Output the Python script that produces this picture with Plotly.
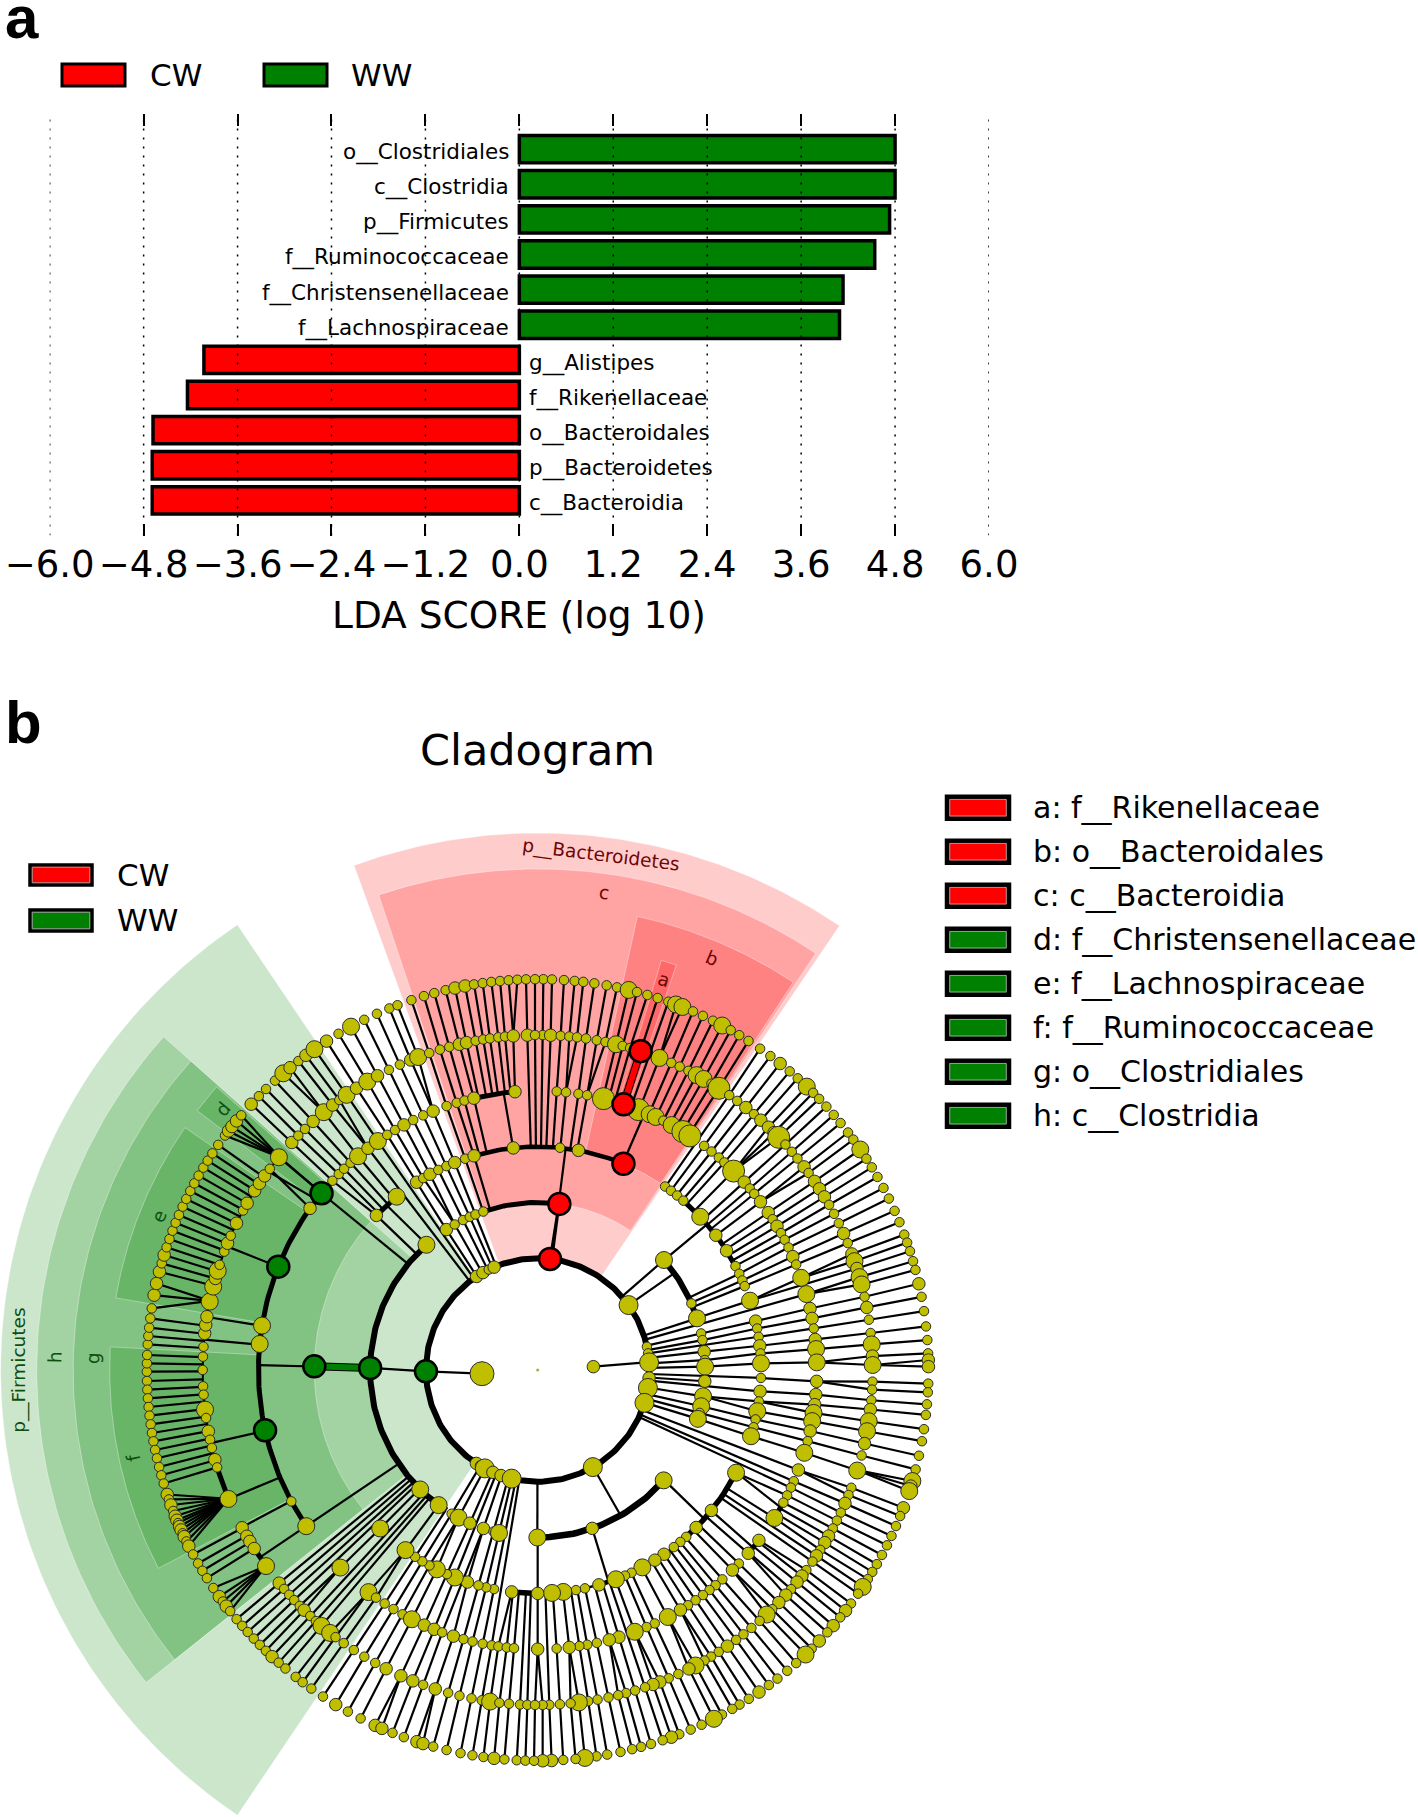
import numpy as np
import plotly.graph_objects as go

PAGE_W, PAGE_H = 1418, 1817
FONT = "DejaVu Sans"
RED, GREEN, OLIVE = "#ff0000", "#008000", "#bfbf00"

# ---------- panel a ----------
taxa = ["c__Bacteroidia", "p__Bacteroidetes", "o__Bacteroidales", "f__Rikenellaceae", "g__Alistipes",
        "f__Lachnospiraceae", "f__Christensenellaceae", "f__Ruminococcaceae", "p__Firmicutes",
        "c__Clostridia", "o__Clostridiales"]
lda = [-4.69, -4.69, -4.68, -4.24, -4.03, 4.09, 4.135, 4.54, 4.73, 4.8, 4.8]
bar_rows = list(range(len(taxa)))
tick_vals = [-6.0, -4.8, -3.6, -2.4, -1.2, 0.0, 1.2, 2.4, 3.6, 4.8, 6.0]

# ---------- panel b: nodes (x, y, size class) in third-of-a-pixel crop units ----------
CROP_CENTRE = {"TR": (23, 1215), "BR": (23, 31), "BL": (1223, 31), "TL": (1223, 1215)}
ring_radius = {1: 55.8, 2: 111.7, 3: 167.5, 4: 223.4, 5: 279.2, 6: 335.0, 7: 390.8}

L7_TR = [(40,43),(66,43),(102,45),(134,48),(160,50),(193,55),(230,61),(261,67),(296,75,3),(321,81),(352,90),(383,99),(415,110),(438,118,3),(458,124,3),(489,139),(519,152),(549,167),(577,181,3),(603,194),(628,210),(656,227),(691,250),(722,272),(751,295,2),(780,318),(804,339),(831,364,3),(851,382),(868,401),(890,424),(912,449),(933,473),(956,501),(971,523),(993,552,3),(1011,580),(1027,606),(1044,635),(1062,668),(1078,700),(1095,737),(1110,771),(1125,808),(1134,832),(1142,858),(1151,888),(1159,914),(1168,956,2),(1177,995),(1184,1038),(1190,1084),(1194,1125),(1197,1165),(1197,1185,2),(1198,1205,2)]
L7_BR = [(1198,72),(1196,98),(1192,134),(1190,166),(1185,209),(1178,245),(1170,289),(1160,330),(1150,365,3),(1145,380,2),(1140,395,3),(1122,445,2),(1113,470),(1100,500),(1087,530),(1073,558),(1058,587),(1043,615),(1029,638),(1016,660),(1000,683,3),(987,704),(965,733),(948,754,2),(933,775),(912,800,2),(894,820),(870,846,2),(848,870),(828,886,3),(800,912),(773,935),(744,959),(718,978),(689,1000,2),(658,1020),(630,1037),(608,1050),(577,1067),(553,1080,3),(516,1098),(483,1112),(449,1127),(425,1135,2),(399,1145),(364,1156),(334,1164),(307,1171),(272,1179),(232,1187),(200,1192),(165,1197,3),(137,1200),(100,1204),(65,1205,2),(38,1207,2)]
L7_BL = [(50,64),(52,90),(54,116),(56,142),(58,168),(62,194),(66,220),(70,245),(75,271),(80,296),(87,322),(93,347),(100,372),(110,405,2),(115,420),(120,437,2),(127,455),(135,470,2),(140,482,2),(145,490),(150,500,2),(155,510,2),(160,520),(165,530,2),(170,545),(175,560,2),(188,585),(203,612),(216,634),(230,656),(250,685),(265,713,2),(275,728),(288,740,2),(300,755),(318,780),(336,799),(352,818),(370,838),(388,857),(406,875),(425,892,2),(445,910),(465,928),(496,953),(517,969),(543,988),(578,1012),(616,1037,2),(653,1057),(691,1078),(735,1098,2),(755,1108,2),(787,1121),(821,1134),(860,1148,2),(878,1155,2),(909,1163),(949,1174),(991,1183),(1027,1189),(1060,1194),(1092,1198,2),(1123,1201),(1160,1205),(1186,1206),(1212,1207)]
L7_TL = [(50,1220),(50,1195),(52,1170),(52,1138),(55,1113),(57,1088),(60,1060),(65,1030),(70,990,2),(78,955,2),(88,920,2),(95,895),(102,870,2),(110,847),(118,822),(127,797),(136,773),(147,750),(158,725),(169,702),(181,678),(193,655),(206,632),(220,608),(233,587),(247,565),(265,540),(283,510),(292,495,2),(300,480,2),(320,468,2),(335,452),(364,418,2),(386,393),(408,372),(435,347),(460,325,3),(480,308,2),(505,288),(527,270,2),(553,252,3),(590,229,2),(626,207),(663,185,3),(703,165),(741,147),(778,130),(803,122),(844,105),(882,94),(913,85),(947,76),(975,69,2),(1005,62,2),(1032,58),(1058,54),(1084,51),(1110,47),(1136,46),(1162,44),(1188,43),(1215,43)]

L6_TR = [(38,211),(62,211,2),(92,213),(118,215),(141,218),(168,222),(200,227),(226,233),(258,238,3),(278,243),(300,250),(388,280,3),(424,293),(449,305),(475,318),(500,330,3),(520,343,3),(545,355),(568,368,4),(598,390),(622,407),(648,427,2),(672,447),(693,465,2),(716,486,2),(733,502,2),(748,515,4),(767,538),(787,559),(803,580),(823,605,2),(837,623),(855,648,2),(869,671,2),(884,695,2),(898,719),(913,746),(928,774),(942,805,2),(954,834),(968,866,2),(975,888,3),(982,910,2),(990,936,3),(996,958,3),(1005,995),(1012,1027,2),(1018,1064),(1022,1104),(1028,1138,3),(1029,1173,2),(1030,1200,3)]
L6_BR = [(1030,66),(1028,90),(1026,122),(1025,150,2),(1018,185,3),(1013,215,3),(1005,252,2),(997,288),(983,333,3),(966,385),(958,407),(947,432,2),(935,460),(923,484),(910,507),(897,530,2),(886,550,2),(873,572),(862,590,2),(849,607),(830,632),(817,650,2),(802,668,2),(785,690),(768,707,2),(748,730,2),(728,750),(712,767,3),(690,785),(666,807),(642,826),(620,843),(593,861,2),(567,878),(544,892),(525,905),(498,920,3),(478,930,2),(446,945),(417,958),(390,968,2),(370,977,2),(346,985),(316,995),(289,1003),(265,1008),(236,1016),(203,1022),(175,1027),(147,1031,3),(122,1033),(90,1036),(58,1037),(38,1038)]
L6_BL = [(220,80),(220,105),(225,150,3),(228,175),(235,215,2),(240,240),(245,265),(255,300,2),(262,323),(295,418,3),(335,505,2),(350,530,2),(360,545,2),(372,567,2),(407,620,3),(448,670,2),(462,688),(478,705),(492,722),(508,740),(522,752,2),(540,770),(557,785),(575,798,3),(600,820,3),(617,832),(640,852),(671,872),(703,891),(735,911),(768,928,2),(812,950,2),(848,965,2),(879,977),(915,990,2),(954,1001),(988,1010),(1024,1018),(1055,1024),(1080,1028,3),(1108,1031),(1137,1034),(1170,1036),(1192,1036),(1215,1037)]
L6_TL = [(220,1215),(218,1175),(218,1145),(222,1105,2),(228,1080,2),(230,1055,2),(240,1010,3),(250,965,3),(255,940,2),(265,918,3),(270,900),(283,860),(293,835,2),(302,812),(320,775,2),(340,737),(352,715,2),(375,678,2),(388,655,2),(403,632,2),(420,612),(447,577,3),(486,533,2),(506,513),(526,493),(550,470,2),(580,440,3),(608,420,2),(628,405),(650,390,3),(680,370,2),(712,350,3),(743,333,2),(777,315),(810,300),(843,287,2),(865,278,3),(898,265),(930,255),(958,246),(988,238,2),(1010,235,2),(1037,228),(1060,225),(1080,222),(1105,217),(1125,215),(1150,214,2),(1192,211,2),(1215,211)]

L5_TR = [(80,381),(108,383),(145,388),(171,393),(220,402,4),(260,412),(325,435,4),(358,450,3),(375,460,3),(400,467),(425,480,3),(460,497,4),(480,512,4),(522,543),(545,559),(567,577),(585,590),(612,617,4),(643,651,2),(660,670),(673,686),(692,710,2),(716,742,2),(729,762),(742,783,2),(755,803),(765,824),(776,847),(790,874,2),(800,898),(815,938,3),(830,987,3),(842,1030,2),(847,1060,2),(853,1090),(858,1123,2),(860,1152,3),(862,1192,3)]
L5_BR = [(862,65,2),(860,105,2),(855,135,2),(852,160,3),(850,185,3),(845,215,2),(835,245),(825,280,3),(808,332,2),(792,365),(785,385),(773,408),(762,430),(735,476,3),(688,543,2),(656,582,2),(628,613),(608,632,2),(578,660),(558,678),(540,693),(520,708),(497,722),(475,738),(452,752,2),(415,775,3),(375,793),(350,803),(315,818,3),(267,833,2),(238,842,2),(201,852),(172,857),(148,859),(118,865,2),(80,868),(23,870,2)]
L5_BL = [(484,425),(528,500,3),(630,625,3),(715,698,3),(738,714),(763,733),(790,749),(817,765),(845,780,3),(882,798,2),(912,810,2),(936,820),(970,830,2),(1000,840),(1027,848),(1058,853),(1085,857),(1105,860),(1130,865),(1152,867)]
L5_TL = [(390,1137,3),(397,1082,3),(540,730,2),(608,648),(627,628),(643,612),(663,595),(685,575,3),(714,550,2),(745,530,3),(772,510),(795,495),(822,480,2),(850,466),(880,452),(910,440,2),(950,424),(980,413),(1003,405),(1032,401,2),(1155,381,2)]

L4_TR = [(90,549),(145,557,2),(405,665),(423,677),(441,692),(460,707),(511,755,3),(557,811,2),(590,857,2),(617,903),(630,925),(640,945),(645,963),(660,1007,3),(678,1068,2),(684,1090),(688,1115),(692,1142,2),(694,1165),(695,1195,3)]
L4_BR = [(695,55),(690,95,2),(684,125),(684,155,3),(680,180),(672,203),(664,230,3),(620,340,3),(545,453,2),(500,505,2),(470,533),(452,548),(432,563),(403,585,2),(375,602,2),(338,625,3),(305,640),(285,648),(258,660,3),(207,677,2),(165,687),(138,692),(100,697,3),(66,700,3),(23,703,2)]
L4_BL = [(1145,697,2),(1092,688),(1068,685),(1045,678),(1012,668,2),(975,652,3),(950,645),(920,630,3),(898,618),(877,605),(855,592),(826,572,3),(750,507,3)]
L4_TL = [(740,752,2),(800,695,3),(860,652,2),(880,640),(900,628,2),(925,615),(950,605),(975,595,2),(1005,580),(1032,572,2),(1150,550,2)]

L3_TR = [(402,885,3),(485,1015),(501,1060,3),(515,1105),(520,1125),(523,1160,2),(527,1185),(528,1205,3)]
L3_BR = [(527,65,2),(520,110,3),(515,140,3),(510,160),(505,178,3),(402,363,3),(187,507,2),(22,535,3)]
L3_BL = [(870,390,3),(927,435,3),(965,462),(985,475,3),(1020,490,2),(1060,507,2),(1090,517),(1107,520,3)]
L3_TL = [(890,840,3),(950,795,2),(975,780),(1000,767),(1020,757),(1037,750),(1060,740)]

L2_TR = [(296,1020,3),(352,1145),(355,1165),(360,1192,3)]
L2_BR = [(358,55,2),(355,85,3),(348,118),(345,130,3),(190,325,3)]
L2_BL = [(1040,310,2),(1050,318),(1065,325,3),(1090,335,2),(1113,348,2),(1145,357,3)]
L2_TL = [(1040,935,2),(1060,925,2),(1077,915),(1093,908,2)]

L1_TR = [(191,1205,2)]
L1_BL = [(1057,42,4)]

RED_reads = [(60,882),(88,717),(280,597),(280,420),(332,258)]
RED_levels = [2, 3, 4, 5, 6]
GREEN_reads = [("BL",888,35),("BL",720,25),("BL",553,20),("TL",575,685),("TL",445,905),("BL",405,212)]
GREEN_levels = [2, 3, 4, 5, 5, 5]

# thick arcs: level, first angle, last angle (degrees clockwise from north), width
arc_level = [2, 3, 3, 3, 3, 4, 4, 4, 4, 4, 4, 4, 4, 5, 5, 5, 5, 5, 6, 6, 6, 6]
arc_start = [-180, -19, 49, -147, 131, -16.5, -46, 33.9, 40.7, 117.3, 138, 159.5, -180, -124, -13, 118.3, 127.5, 13, -107, -112.6, -126, -125.8]
arc_end = [180, 7.3, 72, -41.5, 180, 22.6, -39, 40.7, 62.3, 138, 180, 164, -173, -52.4, -4.6, 122, 131, 33.5, -52, -106.8, -118, -122.2]
arc_width = [6, 5, 6, 6, 6.5, 4.5, 5, 3, 5, 5.5, 2.5, 5, 5.5, 5, 5, 5, 5, 2.5, 2, 5, 2.5, 5]

# links from a parent to its arc or child: level, angle, level, angle
link_from_level = [1, 1, 2, 2, 2, 2, 3, 3, 3, 3, 3, 3, 4, 4, 4, 4, 4, 5, 5, 5, 5, 5, 5, 5, 5, 5]
link_from_angle = [86.6, -93.8, 54.5, 150.3, 6.3, -90.7, 7.2, 49, 131, 161, 180, -41.5, 22.4, -6.3, 117.3, 129, -89.1, -50.7, -54.6, -52.4, -68.3, -80.9, -84.8, -102.6, -118, -124]
link_to_level = [2, 2, 3, 3, 3, 3, 4, 4, 4, 4, 4, 4, 5, 5, 5, 5, 5, 6, 6, 6, 6, 6, 6, 6, 6, 6]
link_to_angle = [86, -90.7, 54.7, 150.3, 7.2, -89.3, 7.2, 49.3, 131.8, 161.5, 180, -42.5, 22.6, -7, 119.5, 129.5, -89, -50.5, -53.1, -53.6, -68.3, -80.9, -84.8, -102.6, -118, -124]

# fans: one level-6 parent, level-7 children inside an angle range
fan_parent = [-50.5, -78.1, -112.6, -125.8, 107.4]
fan_start = [-53.2, -81, -117, -128.4, 106]
fan_end = [-49, -77, -108, -123.5, 108.5]

# shaded clades
wedge_start = [-20, -18.5, 12.4, 16.8, -34, -48.3, -48.3, -117.6, -80.3, -52.7]
wedge_end = [34.2, 33.7, 33.4, 18.9, -146, -128.6, -128.6, -86.9, -55.5, -48.6]
wedge_inner = [112, 167.5, 223.4, 279.2, 112, 167.5, 223.4, 279.2, 279.2, 279.2]
wedge_outer = [537, 501, 464.5, 428, 537, 501, 464.5, 428, 428, 428]
wedge_rgb = ["255,0,0"] * 4 + ["0,128,0"] * 6

clade_text = ["p__Bacteroidetes", "c", "b", "a", "p__Firmicutes", "h", "g", "f", "e", "d"]
clade_angle = [7, 7.9, 23, 17.9, -90, -88.5, -88.5, -102.3, -67.9, -50.4]
clade_radius = [519, 482, 447, 410, 519, 483, 445, 414, 409, 409]
clade_color = ["#6e0505"] * 4 + ["#0d4f0d"] * 6

legend_names = ["a: f__Rikenellaceae", "b: o__Bacteroidales", "c: c__Bacteroidia", "d: f__Christensenellaceae",
                "e: f__Lachnospiraceae", "f: f__Ruminococcaceae", "g: o__Clostridiales", "h: c__Clostridia"]
legend_colors = [RED, RED, RED, GREEN, GREEN, GREEN, GREEN, GREEN]

# ---------- helpers ----------
SIZE = {1: 9.5, 2: 12.5, 3: 17, 4: 22}
LEVEL_LISTS = {7: [("TR", L7_TR), ("BR", L7_BR), ("BL", L7_BL), ("TL", L7_TL)],
               6: [("TR", L6_TR), ("BR", L6_BR), ("BL", L6_BL), ("TL", L6_TL)],
               5: [("TR", L5_TR), ("BR", L5_BR), ("BL", L5_BL), ("TL", L5_TL)],
               4: [("TR", L4_TR), ("BR", L4_BR), ("BL", L4_BL), ("TL", L4_TL)],
               3: [("TR", L3_TR), ("BR", L3_BR), ("BL", L3_BL), ("TL", L3_TL)],
               2: [("TR", L2_TR), ("BR", L2_BR), ("BL", L2_BL), ("TL", L2_TL)],
               1: [("TR", L1_TR), ("BL", L1_BL)]}


def read_angle(crop, x, y):
    cx, cy = CROP_CENTRE[crop]
    return float(np.degrees(np.arctan2(x - cx, cy - y)))


def polar(level_or_r, angle, is_level=True):
    r = ring_radius[level_or_r] if is_level else level_or_r
    a = np.radians(angle)
    return r * np.sin(a), r * np.cos(a)


def adiff(a, b):
    return abs((a - b + 180) % 360 - 180)


nodes = {}
for lev, groups in LEVEL_LISTS.items():
    nodes[lev] = []
    for crop, rows in groups:
        for row in rows:
            s = row[2] if len(row) > 2 else 1
            nodes[lev].append((read_angle(crop, row[0], row[1]), s))

red_angles = [read_angle("TR", x, y) for x, y in RED_reads]
green_angles = [read_angle(c, x, y) for c, x, y in GREEN_reads]
for lev, a in zip(RED_levels, red_angles):
    nodes[lev].append((a, 4))
for lev, a in zip(GREEN_levels, green_angles):
    nodes[lev].append((a, 4))


def on_arc(level, angle):
    for l, s, e in zip(arc_level, arc_start, arc_end):
        if l == level and s <= angle <= e:
            return True
    return False


segx, segy = [], []


def seg(l1, a1, l2, a2):
    x1, y1 = polar(l1, a1)
    x2, y2 = polar(l2, a2)
    segx.extend([x1, x2, None])
    segy.extend([y1, y2, None])


TOL = 1.6
for lev in range(3, 8):
    for a, _ in nodes[lev]:
        if on_arc(lev, a):
            continue
        if lev == 7:
            fan = [p for p, s, e in zip(fan_parent, fan_start, fan_end) if s <= a <= e]
            if fan:
                seg(6, fan[0], 7, a)
                continue
        for j in range(lev - 1, 0, -1):
            if on_arc(j, a):
                seg(j, a, lev, a)
                break
            near = [b for b, _s in nodes[j] if adiff(a, b) <= TOL]
            if near:
                best = min(near, key=lambda b: adiff(a, b))
                seg(j, best, lev, a)
                break

for l1, a1, l2, a2 in zip(link_from_level, link_from_angle, link_to_level, link_to_angle):
    seg(l1, a1, l2, a2)

fig = go.Figure()

# ---------- panel a traces ----------
fig.add_trace(go.Bar(x=lda, y=bar_rows, orientation="h", width=0.78,
                     marker=dict(color=[RED if v < 0 else GREEN for v in lda], line=dict(color="black", width=3.5)),
                     showlegend=False, hoverinfo="skip"))
gx, gy = [], []
for t in tick_vals:
    gx += [t, t, None]
    gy += [-1, 11, None]
fig.add_trace(go.Scatter(x=gx, y=gy, mode="lines", line=dict(color="black", width=1.5, dash="2px,7px"),
                         showlegend=False, hoverinfo="skip"))

# ---------- panel b traces ----------
for st, en, ri, ro, rgb in zip(wedge_start, wedge_end, wedge_inner, wedge_outer, wedge_rgb):
    th = np.linspace(st, en, 90)
    ox, oy = polar(ro, th, False)
    ix, iy = polar(ri, th[::-1], False)
    fig.add_trace(go.Scatter(x=np.r_[ox, ix, ox[0]], y=np.r_[oy, iy, oy[0]], xaxis="x2", yaxis="y2", mode="lines",
                             fill="toself", fillcolor=f"rgba({rgb},0.2)", line=dict(color="rgba(255,255,255,0.35)", width=1),
                             showlegend=False, hoverinfo="skip"))

for l, s, e, w in zip(arc_level, arc_start, arc_end, arc_width):
    th = np.linspace(s, e, max(8, int(abs(e - s))))
    ax_, ay_ = polar(l, th)
    fig.add_trace(go.Scatter(x=ax_, y=ay_, xaxis="x2", yaxis="y2", mode="lines", line=dict(color="black", width=w),
                             showlegend=False, hoverinfo="skip"))

fig.add_trace(go.Scatter(x=segx, y=segy, xaxis="x2", yaxis="y2", mode="lines", line=dict(color="black", width=2.2),
                         showlegend=False, hoverinfo="skip"))

# coloured stems
gs_x, gs_y = zip(polar(3, green_angles[1]), polar(4, green_angles[2]))
fig.add_trace(go.Scatter(x=gs_x, y=gs_y, xaxis="x2", yaxis="y2", mode="lines", line=dict(color="black", width=8),
                         showlegend=False, hoverinfo="skip"))
fig.add_trace(go.Scatter(x=gs_x, y=gs_y, xaxis="x2", yaxis="y2", mode="lines", line=dict(color=GREEN, width=6),
                         showlegend=False, hoverinfo="skip"))
rs_x, rs_y = zip(polar(5, red_angles[3]), polar(6, red_angles[4]))
fig.add_trace(go.Scatter(x=rs_x, y=rs_y, xaxis="x2", yaxis="y2", mode="lines", line=dict(color="black", width=8),
                         showlegend=False, hoverinfo="skip"))
fig.add_trace(go.Scatter(x=rs_x, y=rs_y, xaxis="x2", yaxis="y2", mode="lines", line=dict(color=RED, width=6),
                         showlegend=False, hoverinfo="skip"))

for lev in [2, 1, 3, 4, 5, 6, 7]:
    plain = [(a, s) for a, s in nodes[lev]
             if not any(l == lev and adiff(a, b) < 1e-9 for l, b in zip(RED_levels, red_angles))
             and not any(l == lev and adiff(a, b) < 1e-9 for l, b in zip(GREEN_levels, green_angles))]
    xs, ys = polar(lev, np.array([p[0] for p in plain]))
    fig.add_trace(go.Scatter(x=xs, y=ys, xaxis="x2", yaxis="y2", mode="markers",
                             marker=dict(color=OLIVE, opacity=1,
                                         size=[SIZE[p[1]] if not (lev <= 2 and p[1] >= 3) else SIZE[p[1]] + 2 for p in plain],
                                         line=dict(color="#2a2a2a", width=1)),
                             showlegend=False, hoverinfo="skip"))

for levs, angs, col in [(RED_levels, red_angles, RED), (GREEN_levels, green_angles, GREEN)]:
    xs = [polar(l, a)[0] for l, a in zip(levs, angs)]
    ys = [polar(l, a)[1] for l, a in zip(levs, angs)]
    fig.add_trace(go.Scatter(x=xs, y=ys, xaxis="x2", yaxis="y2", mode="markers",
                             marker=dict(color=col, opacity=1, size=22, line=dict(color="black", width=2.5)),
                             showlegend=False, hoverinfo="skip"))
fig.add_trace(go.Scatter(x=[0], y=[0], xaxis="x2", yaxis="y2", mode="markers",
                         marker=dict(color="#a9a94a", size=3), showlegend=False, hoverinfo="skip"))

# ---------- annotations and shapes ----------
anns, shapes = [], []


def page_text(text, x, y, size, anchor="left", family=FONT, color="black"):
    anns.append(dict(text=text, x=x / PAGE_W, y=1 - y / PAGE_H, xref="paper", yref="paper", xanchor=anchor,
                     yanchor="middle", showarrow=False, font=dict(family=family, size=size, color=color)))


def swatch(x0, y0, x1, y1, color, lw, rim=False):
    shapes.append(dict(type="rect", xref="paper", yref="paper", x0=x0 / PAGE_W, x1=x1 / PAGE_W,
                       y0=1 - y1 / PAGE_H, y1=1 - y0 / PAGE_H, fillcolor=color, line=dict(color="black", width=lw)))
    if rim:
        d = lw / 2 + 0.5
        shapes.append(dict(type="rect", xref="paper", yref="paper", x0=(x0 + d) / PAGE_W, x1=(x1 - d) / PAGE_W,
                           y0=1 - (y1 - d) / PAGE_H, y1=1 - (y0 + d) / PAGE_H, fillcolor="rgba(0,0,0,0)",
                           line=dict(color="#9a9a9a", width=1)))


for row, name, v in zip(bar_rows, taxa, lda):
    anns.append(dict(text=name, x=0, y=row, xref="x", yref="y", xanchor="right" if v > 0 else "left", xshift=-8 if v > 0 else 8,
                     yshift=-3, yanchor="middle", showarrow=False, font=dict(family=FONT, size=21.5, color="black")))

page_text("<b>a</b>", 3, 18, 60, family="Liberation Sans")
page_text("<b>b</b>", 3, 722, 60, family="Liberation Sans")
page_text("LDA SCORE (log 10)", 519.3, 615, 37.5, anchor="center")
page_text("Cladogram", 537.5, 750, 43, anchor="center")

swatch(62, 64, 125, 86, RED, 3)
page_text("CW", 148, 75, 31)
swatch(264, 64, 327, 86, GREEN, 3)
page_text("WW", 349, 75, 31)
swatch(30, 865, 92, 885, RED, 3.5, rim=True)
page_text("CW", 115, 875, 31)
swatch(30, 910, 92, 931, GREEN, 3.5, rim=True)
page_text("WW", 115, 920, 31)

for i, (nm, col) in enumerate(zip(legend_names, legend_colors)):
    cy = 807.7 + 44 * i
    swatch(947, cy - 11, 1009, cy + 11, col, 4.5, rim=True)
    page_text(nm, 1030.7, cy, 30)

for t, a, r, c in zip(clade_text, clade_angle, clade_radius, clade_color):
    x, y = polar(r, a, False)
    anns.append(dict(text=t, x=x, y=y, xref="x2", yref="y2", xanchor="center", yanchor="middle", showarrow=False,
                     textangle=a, font=dict(family=FONT, size=18.5, color=c)))

fig.update_layout(
    width=PAGE_W, height=PAGE_H, autosize=False, margin=dict(l=0, r=0, t=0, b=0),
    paper_bgcolor="white", plot_bgcolor="rgba(0,0,0,0)", bargap=0.2, showlegend=False,
    annotations=anns, shapes=shapes, font=dict(family=FONT),
    xaxis=dict(domain=[49.7 / PAGE_W, 989 / PAGE_W], range=[-6, 6], tickvals=tick_vals,
               ticktext=[f"{t:.1f}".replace("-", "\u2212") for t in tick_vals], automargin=False,
               ticks="inside", ticklen=12, tickwidth=1.5, tickcolor="black", mirror="ticks", showline=False,
               showgrid=False, zeroline=False, tickfont=dict(family=FONT, size=37, color="black"), ticklabelstandoff=3, anchor="y"),
    yaxis=dict(domain=[1 - 535.5 / PAGE_H, 1 - 114 / PAGE_H], range=[-1, 11], showticklabels=False, ticks="",
               showgrid=False, zeroline=False, showline=False, anchor="x", automargin=False),
    xaxis2=dict(domain=[0, 1], range=[-537.67, PAGE_W - 537.67], visible=False, anchor="y2", automargin=False),
    yaxis2=dict(domain=[0, 1], range=[1370 - PAGE_H, 1370], visible=False, anchor="x2", automargin=False),
)

fig.write_html("out.html", config={"displayModeBar": False},
               post_script="document.body.style.margin='0';document.documentElement.style.overflow='hidden';")
